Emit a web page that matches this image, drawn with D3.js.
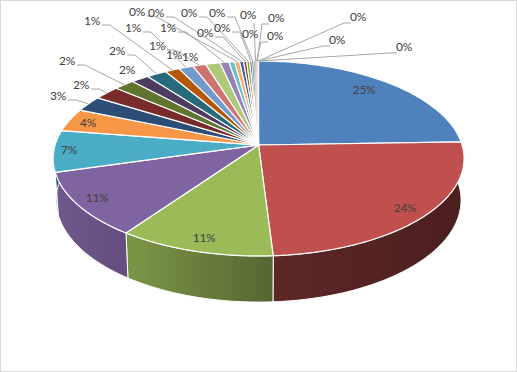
<!DOCTYPE html>
<html><head><meta charset="utf-8"><script src="https://cdn.jsdelivr.net/npm/d3@7/dist/d3.min.js"></script>
<style>html,body{margin:0;padding:0;background:#fff}svg{display:block}text{font-family:Lato,sans-serif;font-size:12px;letter-spacing:-.4px;fill:#404040}</style></head>
<body><svg id="c" width="517" height="372"></svg>
<script>
const sliceValues=[24.5,24.54,10.8,10.76,6.9,3.8,2.6,2.35,1.85,1.6,1.8,1.3,1.3,1.2,1.3,0.8,0.5,0.45,0.36,0.27,0.27,0.2,0.15,0.12,0.1,0.08,0.06,0.04,0.03,0.02];
const sliceLabels=["25%","24%","11%","11%","7%","4%","3%","2%","2%","2%","2%","1%","1%","1%","1%","1%","1%","0%","0%","0%","0%","0%","0%","0%","0%","0%","0%","0%","0%","0%"];
const sliceColors=["#4F81BD","#C0504D","#9BBB59","#8064A2","#4BACC6","#F79646","#2C4D75","#772C2A","#5F7530","#4D3B62","#276A7C","#B65708","#729ACA","#CD7371","#AFC97A","#9983B5","#6FBDD1","#F9AB6B","#3A679C","#9E3B38","#7F9D43","#664F84","#3A8EA5","#DC7A24","#5B8BC4","#C85F5C","#A3C163","#8A6FAB","#57B5CE","#F9A15A"];
// label centres, then leader mode: 0 none, 1 stub on the right of the label, 2 stub on the left, 3 straight down
const labelPlaces=[[364,90,0],[405,208,0],[204,238,0],[97,198,0],[69,150,0],[88,123,0],[58,96,1],[81,85,1],[67,61,1],[127,70,0],[117,51,1],[92,21,1],[133,28,1],[157,46,1],[174,55,0],[168,28,1],[190,57,0],[137,12,1],[156,13,1],[205,33,1],[189,13,1],[222,28,1],[217,13,1],[250,34,0],[248,15,3],[275,36,2],[276,18,2],[337,40,2],[358,17,2],[404,47,2]];
const sideTones=[[.45,.45],[.49,.39],[.8,.55],[.87,.78]];

const svg=d3.select("#c");
svg.append("rect").attr("x",.5).attr("y",.5).attr("width",516).attr("height",371).attr("fill","#fff").attr("stroke","#D9D9D9");
const defs=svg.append("defs");
const arcs=d3.pie().sort(null).value(d=>d)(sliceValues);

const k=-0.1385;
const topDisc={x:258.6,y:145,a:95.6,c:203.5};
const lowDisc={x:258.6,y:186,a:100,c:200.5};
const project=(disc,t)=>{const X=Math.sin(t),Y=-Math.cos(t),w=1+k*Y;return [disc.x+disc.c*X/w,disc.y+disc.a*Y/w];};
const line=d3.line();
const rim=(disc,a0,a1)=>{const n=Math.max(2,Math.ceil((a1-a0)/0.02));return d3.range(n+1).map(i=>project(disc,a0+(a1-a0)*i/n));};

// sides
const sides=svg.append("g");
arcs.forEach((d,i)=>{
  const upper=rim(topDisc,d.startAngle,d.endAngle),lower=rim(lowDisc,d.startAngle,d.endAngle);
  const xs=upper.concat(lower).map(p=>p[0]);
  const tone=sideTones[i]||[.5,.5];
  const base=d3.rgb(sliceColors[i]);
  const shade=f=>d3.rgb(base.r*f,base.g*f,base.b*f).formatHex();
  const id="g"+i;
  const g=defs.append("linearGradient").attr("id",id).attr("gradientUnits","userSpaceOnUse")
    .attr("x1",d3.min(xs)).attr("x2",d3.max(xs)).attr("y1",0).attr("y2",0);
  g.append("stop").attr("offset",0).attr("stop-color",shade(tone[0]));
  g.append("stop").attr("offset",1).attr("stop-color",shade(tone[1]));
  sides.append("path").attr("d",line(upper.concat(lower.reverse()))+"Z").attr("fill",`url(#${id})`).attr("stroke","#fff").attr("stroke-width",1);
});
// top face
const faces=svg.append("g");
arcs.forEach((d,i)=>{
  faces.append("path").attr("d",line([[topDisc.x,topDisc.y]].concat(rim(topDisc,d.startAngle,d.endAngle)))+"Z")
    .attr("fill",sliceColors[i]).attr("stroke","#fff").attr("stroke-width",i>21?.5:1.2).attr("stroke-linejoin","round");
});
// leaders
const leaders=svg.append("g").attr("fill","none").attr("stroke","#A6A6A6").attr("stroke-width",1);
arcs.forEach((d,i)=>{
  const [lx,ly,mode]=labelPlaces[i];
  if(!mode) return;
  const end=project(topDisc,(d.startAngle+d.endAngle)/2);
  let pts;
  if(mode===1) pts=[[lx+10,ly+4],[lx+18,ly+4],end];
  else if(mode===2) pts=[[lx-7,ly+6],[lx-14,ly+6],end];
  else pts=[[lx+6,ly+8],end];
  leaders.append("path").attr("d",line(pts));
});
// labels
svg.append("g").selectAll("text").data(sliceLabels).join("text")
  .attr("x",(d,i)=>labelPlaces[i][0]).attr("y",(d,i)=>labelPlaces[i][1]+4)
  .attr("text-anchor","middle").text(d=>d);
</script></body></html>
